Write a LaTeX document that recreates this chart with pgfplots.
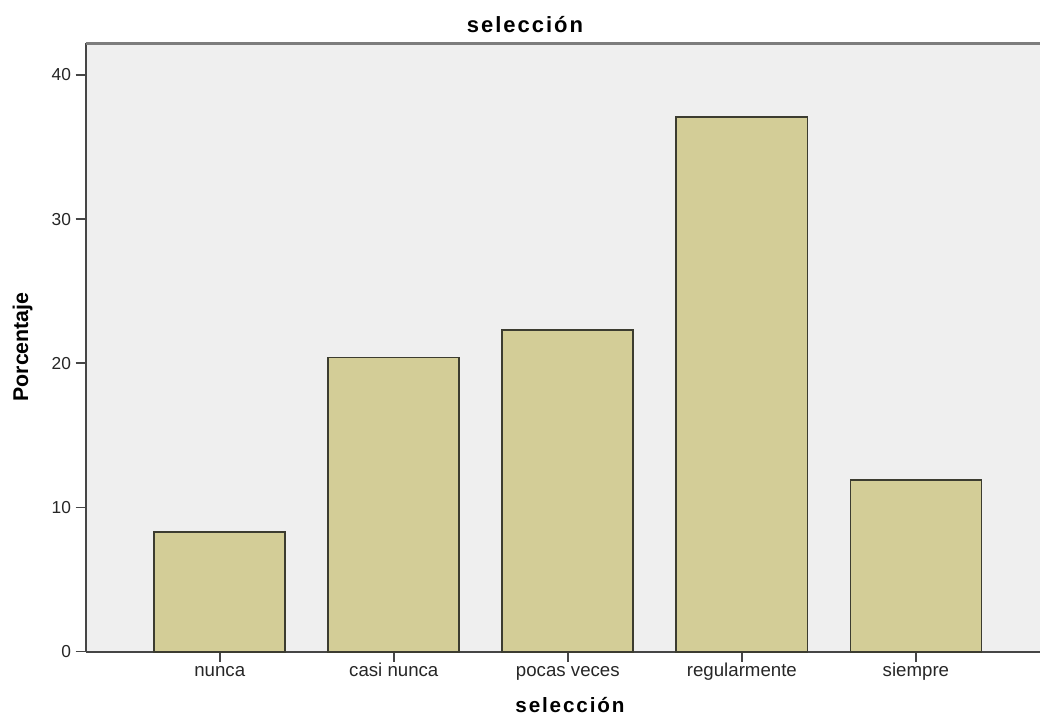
\documentclass[border=0pt]{standalone}
\usepackage{pgfplots}
\pgfplotsset{compat=1.18}
\usepackage{fontspec}
\setmainfont{Liberation Sans}
\newfontfamily\titlefont[LetterSpace=9]{Liberation Sans}
\definecolor{bg}{RGB}{239,239,239}
\definecolor{barfill}{RGB}{211,205,151}
\definecolor{baredge}{RGB}{60,60,48}
\definecolor{axcol}{RGB}{70,70,70}
\definecolor{topcol}{RGB}{125,125,125}
\begin{document}
\begin{tikzpicture}
\path[use as bounding box] (0,0) rectangle (780pt,537.75pt);
\begin{axis}[
  at={(64.3pt,49pt)}, anchor=south west,
  scale only axis, width=715.7pt, height=456.2pt,
  xmin=-0.770, xmax=4.713, ymin=0, ymax=42.18,
  axis background/.style={fill=bg},
  axis x line*=bottom, axis y line*=left,
  axis line style={axcol, line width=1.5pt},
  xtick={0,1,2,3,4},
  xticklabels={nunca, casi nunca, pocas veces, regularmente, siempre},
  ytick={0,10,20,30,40},
  tick align=outside, major tick length=7.5pt,
  tick style={axcol, line width=1.2pt},
  /pgf/number format/assume math mode=true,
  xticklabel style={font=\fontsize{14}{16}\selectfont, color=black!85, text height=7.6pt, text depth=3pt},
  yticklabel style={font=\fontsize{13}{15}\selectfont, color=black!85},
  ybar, bar width=0.753,
  clip=false,
]
\addplot[fill=barfill, draw=baredge, line width=1.3pt] coordinates {(0,8.3) (1,20.4) (2,22.3) (3,37.1) (4,11.9)};
\draw[topcol, line width=2pt] (rel axis cs:0,1) -- (rel axis cs:1,1);
\end{axis}
\node[anchor=base, font=\titlefont\bfseries\fontsize{16.5}{18}\selectfont] at (393.75pt,513pt) {selección};
\node[anchor=base, font=\titlefont\bfseries\fontsize{15.5}{18}\selectfont] at (427.5pt,3pt) {selección};
\node[anchor=base, rotate=90, font=\bfseries\fontsize{16}{18}\selectfont] at (21pt,277.5pt) {Porcentaje};
\end{tikzpicture}
\end{document}
